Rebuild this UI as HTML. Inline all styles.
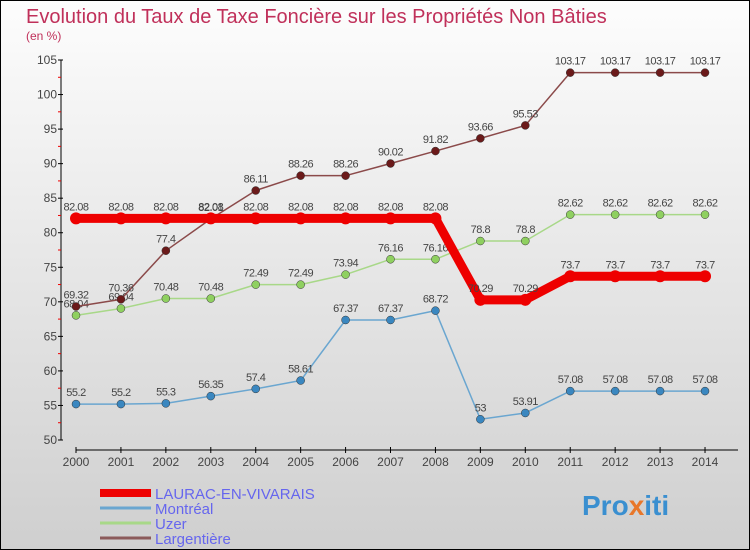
<!DOCTYPE html>
<html><head><meta charset="utf-8"><style>
body{margin:0}
svg{display:block;font-family:"Liberation Sans",sans-serif}
</style></head><body>
<svg id="c" width="750" height="550">
<defs><linearGradient id="bg" x1="0" y1="0" x2="0" y2="1"><stop offset="0" stop-color="#fdfdfd"/><stop offset="1" stop-color="#cfcfcf"/></linearGradient></defs>
<rect x="0.5" y="0.5" width="749" height="549" fill="url(#bg)" stroke="#000"/>
<text x="26" y="23" font-size="20" fill="#c0305a">Evolution du Taux de Taxe Foncière sur les Propriétés Non Bâties</text>
<text x="26" y="40" font-size="12" fill="#c0305a">(en %)</text>
<g id="axes"></g><g id="series"></g><g id="legend"></g>
<text x="582" y="515" font-size="28" font-weight="bold" fill="#3a8fd0">Pro<tspan fill="#e8772a">x</tspan>iti</text>
</svg>
<script>
const years=[2000,2001,2002,2003,2004,2005,2006,2007,2008,2009,2010,2011,2012,2013,2014];
const yTicks=[50,55,60,65,70,75,80,85,90,95,100,105];
const laurac=[82.08,82.08,82.08,82.08,82.08,82.08,82.08,82.08,82.08,70.29,70.29,73.7,73.7,73.7,73.7];
const montreal=[55.2,55.2,55.3,56.35,57.4,58.61,67.37,67.37,68.72,53,53.91,57.08,57.08,57.08,57.08];
const uzer=[68.04,69.04,70.48,70.48,72.49,72.49,73.94,76.16,76.16,78.8,78.8,82.62,82.62,82.62,82.62];
const largentiere=[69.32,70.36,77.4,82.01,86.11,88.26,88.26,90.02,91.82,93.66,95.53,103.17,103.17,103.17,103.17];
const seriesNames=["LAURAC-EN-VIVARAIS","Montréal","Uzer","Largentière"];
const NS="http://www.w3.org/2000/svg";
const x=i=>76+i*44.93;
const y=v=>440-(v-50)*6.909;
function mk(p,t,a){const e=document.createElementNS(NS,t);for(const k in a)e.setAttribute(k,a[k]);p.appendChild(e);return e;}
const ax=document.getElementById('axes');
let l=mk(ax,'line',{x1:61,y1:y(105),x2:61,y2:440,stroke:'#000'});


l=mk(ax,'line',{x1:76,y1:450,x2:738,y2:450,stroke:'#000'});


yTicks.forEach(v=>{
 mk(ax,'line',{x1:58,y1:y(v),x2:63,y2:y(v),stroke:'#000'});
 if(v<105)mk(ax,'line',{x1:58,y1:y(v+2.5),x2:61,y2:y(v+2.5),stroke:'#e00'});
 const t=mk(ax,'text',{x:57,y:y(v)+4,'font-size':12,'text-anchor':'end',fill:'#444'});t.textContent=v;
 
 
});
years.forEach((yr,i)=>{
 mk(ax,'line',{x1:x(i),y1:447,x2:x(i),y2:453,stroke:'#000'});
 const t=mk(ax,'text',{x:x(i),y:466,'font-size':12,'text-anchor':'middle',fill:'#444'});t.textContent=yr;
 
 
});
const sg=document.getElementById('series');
const defs=[[montreal,'#6aa6d0','#3a87c0',1.5,4,'montreal'],[uzer,'#a8d888','#8fd060',1.5,4,'uzer'],[largentiere,'#8b4a4a','#6b1a1a',1.5,4,'largentiere'],[laurac,'#ee0000','#ee0000',9,6,'laurac']];
defs.forEach(([d,lc,pc,w,r,n])=>{
 const g=mk(sg,'g',{});
 
 
 const p=mk(g,'polyline',{points:d.map((v,i)=>x(i)+','+y(v)).join(' '),fill:'none',stroke:lc,'stroke-width':w,'stroke-linejoin':'round'});
 
 
 d.forEach((v,i)=>{
  const c=mk(g,'circle',{cx:x(i),cy:y(v),r:r,fill:pc,stroke:n=='laurac'?'none':'#333','stroke-width':0.5});
  
  
  const t=mk(g,'text',{x:x(i),y:y(v)-8,'font-size':11,'text-anchor':'middle',fill:'#444','letter-spacing':'-0.5'});t.textContent=String(v).replace(/^(\d+)$/,'$1');
  
  
 });
});
const lg=document.getElementById('legend');
const lcols=['#ee0000','#6aa6d0','#a8d888','#8b5a5a'],lw=[8,3,3,3];
seriesNames.forEach((nm,i)=>{
 const yy=493+i*15;
 const ln=mk(lg,'line',{x1:100,y1:yy,x2:151,y2:yy,stroke:lcols[i],'stroke-width':lw[i]});
 
 
 const t=mk(lg,'text',{x:155,y:yy+6,'font-size':15,fill:'#6666ee'});t.textContent=nm;
 
 
});
</script>
</body></html>
